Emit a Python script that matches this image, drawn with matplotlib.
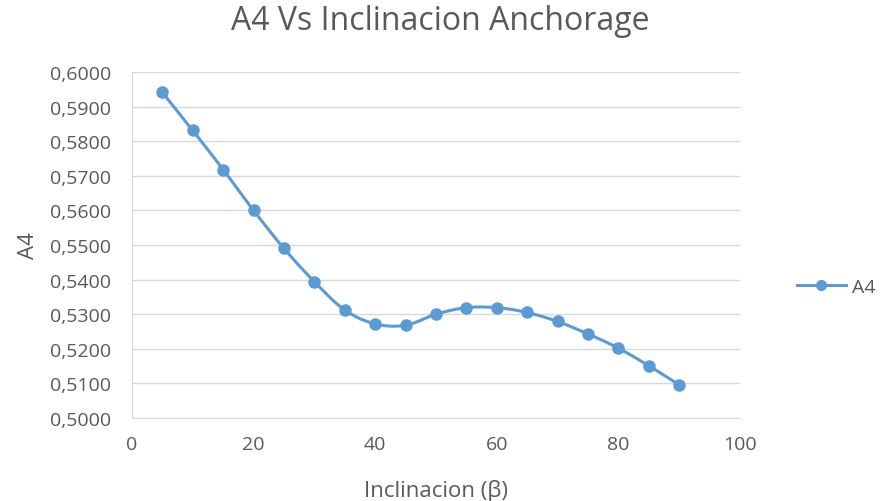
import numpy as np
import matplotlib
matplotlib.use("Agg")
import matplotlib.pyplot as plt
from matplotlib.ticker import FuncFormatter, MultipleLocator

# inclination angle (deg) and A4 values
inclinacion = [5, 10, 15, 20, 25, 30, 35, 40, 45, 50, 55, 60, 65, 70, 75, 80, 85, 90]
a4 = [0.5941, 0.5831, 0.5718, 0.5600, 0.5490, 0.5394, 0.5312, 0.5272, 0.5268,
      0.5300, 0.5319, 0.5319, 0.5305, 0.5279, 0.5243, 0.5202, 0.5151, 0.5096]

blue = "#5B9BD5"
grey = "#595959"
plt.rcParams['font.family'] = ['Open Sans', 'DejaVu Sans']


def smooth(xs, ys, n=20):
    # Catmull-Rom style curve through the points, like Excel's smoothed line
    xs = np.asarray(xs, float)
    ys = np.asarray(ys, float)
    px = np.concatenate([[2 * xs[0] - xs[1]], xs, [2 * xs[-1] - xs[-2]]])
    py = np.concatenate([[2 * ys[0] - ys[1]], ys, [2 * ys[-1] - ys[-2]]])
    out_x, out_y = [], []
    t = np.linspace(0, 1, n, endpoint=False)
    for i in range(1, len(px) - 2):
        for p, out in ((px, out_x), (py, out_y)):
            p0, p1, p2, p3 = p[i - 1], p[i], p[i + 1], p[i + 2]
            c1 = p1 + (p2 - p0) / 6
            c2 = p2 - (p3 - p1) / 6
            out.extend((1 - t) ** 3 * p1 + 3 * (1 - t) ** 2 * t * c1
                       + 3 * (1 - t) * t ** 2 * c2 + t ** 3 * p2)
    out_x.append(xs[-1])
    out_y.append(ys[-1])
    return out_x, out_y


fig = plt.figure(figsize=(8.81, 5.02), dpi=100)
ax = fig.add_axes([0.1498, 0.1653, 0.6901, 0.6893])

sx, sy = smooth(inclinacion, a4)
ax.plot(sx, sy, color=blue, lw=2.2, zorder=3)
ax.plot(inclinacion, a4, 'o', color=blue, ms=8, zorder=4)

ax.set_xlim(0, 100)
ax.set_ylim(0.5, 0.6)
ax.xaxis.set_major_locator(MultipleLocator(20))
ax.yaxis.set_major_locator(MultipleLocator(0.01))
ax.yaxis.set_major_formatter(FuncFormatter(lambda v, p: f"{v:.4f}".replace('.', ',')))

ax.grid(axis='y', color='#d9d9d9', lw=1.0)
ax.set_axisbelow(True)
for s in ['top', 'right']:
    ax.spines[s].set_visible(False)
ax.spines['left'].set_color('#d9d9d9')
ax.spines['bottom'].set_color('#d9d9d9')
ax.tick_params(length=0, colors=grey, labelsize=14)
ax.tick_params(axis='y', pad=15)
ax.tick_params(axis='x', pad=12)

fig.text(0.5, 1 - 22 / 502, "A4 Vs Inclinacion Anchorage", fontsize=23,
         color=grey, ha='center', va='center')
ax.set_xlabel("Inclinacion (β)", fontsize=16, color=grey, labelpad=19)
ax.set_ylabel("A4", fontsize=16, color=grey, labelpad=8)

ax.plot([], [], '-o', color=blue, lw=2.2, ms=7, label='A4')
h, l = ax.get_legend_handles_labels()
fig.legend(h[-1:], l[-1:], loc='center left', bbox_to_anchor=(0.896, 0.426),
           frameon=False, fontsize=14, labelcolor=grey, handlelength=2.5,
           handletextpad=0.3, borderaxespad=0)

fig.savefig("out.png", dpi=100)
